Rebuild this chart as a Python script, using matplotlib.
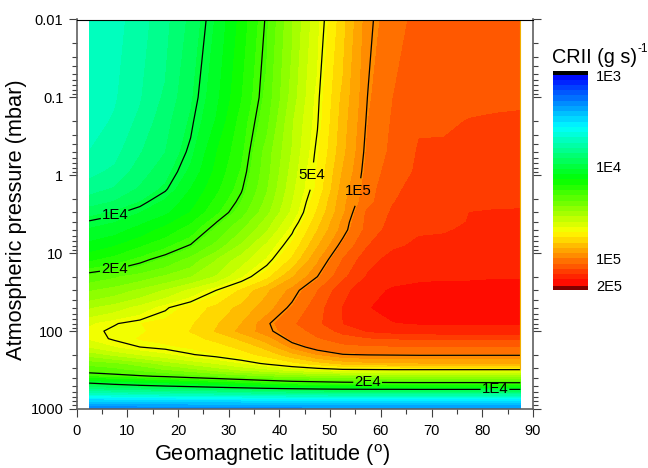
import numpy as np
import matplotlib

matplotlib.use("Agg")
import matplotlib.pyplot as plt
from matplotlib.colors import BoundaryNorm, LinearSegmentedColormap, ListedColormap
from matplotlib.ticker import FixedLocator, NullFormatter

plt.rcParams["font.family"] = ["Liberation Sans", "DejaVu Sans"]
plt.rcParams["mathtext.fontset"] = "custom"
plt.rcParams["mathtext.rm"] = "Liberation Sans"
plt.rcParams["mathtext.default"] = "regular"

latitude = [2.5, 7.5, 12.5, 17.5, 22.5, 27.5, 32.5, 37.5, 42.5, 47.5, 52.5, 57.5, 62.5, 67.5, 72.5, 77.5, 82.5, 87.5]
pressure = [0.01, 0.1, 0.2, 0.5, 0.9, 1.5, 2.2, 3, 4, 5, 8, 12, 20, 30, 50, 80, 100, 125, 160, 200, 260, 310, 380, 460, 560, 740, 850, 1000]

# CRII in units of 1E3 (g s)^-1, one row per pressure
crii_k = [
    [5.0, 5.3, 6.0, 7.0, 8.6, 11, 14.8, 20.5, 31, 45, 66, 97.5, 110, 124, 127, 128, 129, 129],
    [5.1, 5.5, 6.3, 7.5, 9.3, 11.9, 16, 22, 33, 48.6, 72, 101, 118, 127, 130, 131, 132, 133],
    [5.2, 5.7, 6.6, 7.9, 9.7, 12.5, 17, 23, 35, 49.5, 74, 103, 120, 133, 132, 135, 136, 136],
    [5.6, 6.1, 7.2, 8.3, 10.4, 14, 17.8, 25.5, 36, 52, 76, 106, 122, 136, 138, 138, 139, 139],
    [6.1, 6.6, 7.8, 9.0, 11.2, 14.6, 18.7, 26, 37.5, 54, 80, 108, 127, 137, 139, 140, 141, 142],
    [6.9, 7.4, 8.5, 9.8, 12.4, 15.5, 19.7, 27, 39, 55, 84, 111, 132, 139, 141, 142, 144, 145],
    [7.8, 8.4, 9.5, 11.2, 13.3, 16.7, 21, 28.5, 40.5, 59, 87, 113, 134, 140, 143, 147, 150, 151],
    [9.0, 9.7, 10.8, 12, 14.2, 17.8, 22.5, 30, 42, 62, 88, 122, 137, 142, 146, 153.5, 155, 155],
    [10.2, 10.8, 12, 13.5, 15.8, 19.9, 25, 33, 45.5, 66, 93, 123, 140, 152, 150, 154, 156, 157],
    [11, 11.7, 13, 14.8, 17.2, 21.5, 27, 35, 48.8, 69, 95, 124, 143, 152, 152.5, 155, 157, 158],
    [13, 14, 15.8, 17.8, 20.3, 25, 32, 42, 55, 78, 106, 134, 151, 156, 157, 159, 161, 162],
    [15.5, 17, 19, 21.5, 25, 31, 38, 47, 62, 88, 118, 147, 160, 163, 165, 166, 168, 169],
    [22, 23.5, 25.5, 28, 31, 36, 45.5, 58, 78, 100, 130, 156, 168, 172, 173, 173, 174, 174],
    [27, 29, 32, 36, 42, 50, 62, 77, 94, 117, 147, 168, 178, 180, 181, 181, 181, 181],
    [35, 38, 42.5, 49, 56, 63, 72, 85, 104, 127, 154, 174, 183, 187, 189, 189, 189, 189],
    [45.5, 49.5, 53, 55.5, 59.5, 68, 79, 98, 115, 130, 153, 170, 174, 176, 177, 176, 176, 176],
    [48, 51.5, 52.5, 55, 61, 70, 82, 97, 110, 123, 140, 155, 160, 163, 164, 164, 165, 165],
    [47, 51, 53.5, 55, 58, 63, 71, 85, 106, 116, 125, 132, 135, 136, 137, 137, 137, 137],
    [41, 46, 50, 52, 54, 57, 63, 72, 93, 107, 113, 115, 115.5, 116, 116, 116, 116, 116],
    [33, 37, 41, 45, 49.5, 53, 57, 64, 75, 90, 99.5, 101, 101.5, 102, 102, 102, 102, 102],
    [25, 26.5, 29, 33, 37, 41, 46, 51.5, 58, 65, 72, 76, 77, 78, 78, 78, 78, 78],
    [22, 23, 25, 27.5, 30, 33.5, 37, 40, 43.5, 47, 50, 50.5, 51, 51, 51, 51, 51, 51],
    [18, 18.7, 19.5, 20.5, 22, 23.5, 25, 26.5, 28, 29, 30, 30.5, 31, 31, 31, 31, 31, 31],
    [10.2, 11, 11.8, 12.5, 13.3, 14.3, 15.5, 16.8, 18, 18.6, 19.2, 19.5, 19.7, 19.8, 19.8, 19.8, 19.9, 20],
    [7, 7.2, 7.5, 7.8, 8, 8.3, 8.6, 9, 9.3, 9.6, 9.8, 9.9, 9.9, 10, 10, 10, 10, 10],
    [3.3, 3.35, 3.4, 3.45, 3.5, 3.5, 3.55, 3.6, 3.6, 3.65, 3.65, 3.7, 3.7, 3.7, 3.7, 3.7, 3.7, 3.7],
    [2.5, 2.5, 2.55, 2.55, 2.6, 2.6, 2.6, 2.65, 2.65, 2.7, 2.7, 2.7, 2.7, 2.7, 2.7, 2.7, 2.7, 2.7],
    [1.8, 1.8, 1.85, 1.85, 1.9, 1.9, 1.9, 1.95, 1.95, 2.0, 2.0, 2.0, 2.0, 2.0, 2.0, 2.0, 2.0, 2.0],
]

line_levels = [1e4, 2e4, 5e4, 1e5]
line_names = ["1E4", "2E4", "5E4", "1E5"]
# label spots as (latitude, pressure)
label_spots = [(7.6, 3.3), (7.4, 15.4), (46.4, 1.0), (55.3, 1.6), (57.4, 440), (82.5, 562)]

x_ticks = [0, 10, 20, 30, 40, 50, 60, 70, 80, 90]
y_ticks = [0.01, 0.1, 1, 10, 100, 1000]
y_labels = ["0.01", "0.1", "1", "10", "100", "1000"]
bar_ticks = [1e3, 1e4, 1e5, 2e5]
bar_labels = ["1E3", "1E4", "1E5", "2E5"]

W, H = 648, 468
fig = plt.figure(figsize=(W / 100, H / 100), dpi=100)
ax = fig.add_axes([76.5 / W, 1 - 409 / H, (533 - 76.5) / W, (409 - 19.5) / H])

log_z = np.log10(np.array(crii_k) * 1e3)
levels = np.linspace(3, np.log10(2e5), 41)
rainbow = LinearSegmentedColormap.from_list("rainbow5", ["#0000ff", "#00ffff", "#00ff00", "#ffff00", "#ff0000"])
cmap = ListedColormap(rainbow((np.arange(40) + 0.5) / 40))
cmap.set_under("black")
cmap.set_over("#800000")
norm = BoundaryNorm(levels, 40)

cf = ax.contourf(latitude, pressure, log_z, levels=levels, cmap=cmap, norm=norm, extend="both")
cs = ax.contour(latitude, pressure, log_z, levels=np.log10(line_levels), colors="black", linewidths=0.9)

ax.set_yscale("log")
ax.set_xlim(0, 90)
ax.set_ylim(1000, 0.01)

ax.plot([latitude[-1], latitude[-1]], [pressure[0], pressure[21]], color="#f0b000", lw=0.8)

fmt = {lev: name for lev, name in zip(cs.levels, line_names)}
texts = ax.clabel(cs, fmt=fmt, manual=label_spots, inline=True, inline_spacing=1, fontsize=10.8, colors="black")
for t in texts:
    t.set_rotation(0)

ax.set_xticks(x_ticks)
ax.xaxis.set_minor_locator(FixedLocator([v + 5 for v in x_ticks[:-1]]))
ax.yaxis.set_major_locator(FixedLocator(y_ticks))
ax.set_yticklabels(y_labels)
minor_y = [m * t for t in y_ticks[:-1] for m in range(2, 10)]
ax.yaxis.set_minor_locator(FixedLocator(minor_y))
ax.yaxis.set_minor_formatter(NullFormatter())
ax.tick_params(axis="both", which="major", length=5.8, width=0.8, color="#404040", labelsize=10.5)
ax.tick_params(axis="both", which="minor", length=3.4, width=0.8, color="#404040")
ax.tick_params(axis="x", which="major", pad=5)
ax.tick_params(axis="y", which="major", pad=3.6)
ax.tick_params(axis="y", which="both", left=True, right=True)

for side in ["left", "right", "bottom"]:
    ax.spines[side].set_color("#606060")
    ax.spines[side].set_linewidth(1.2)
ax.spines["top"].set_color("black")
ax.spines["top"].set_linewidth(0.8)

fig.text(154 / W, 1 - 461.5 / H, "Geomagnetic latitude ($^{o}$)", fontsize=15.7, va="baseline", ha="left")
fig.text(17 / W, 1 - 220 / H, "Atmospheric pressure (mbar)", fontsize=15.7, rotation=90, va="center", ha="center")

cax = fig.add_axes([553 / W, 1 - 290 / H, 35 / W, 219 / H])
cb = fig.colorbar(cf, cax=cax, extend="both", extendrect=True, extendfrac=0.0214, spacing="proportional")
cb.ax.invert_yaxis()
cb.outline.set_visible(False)
cb.solids.set_edgecolor("face")
cb.set_ticks(np.log10(bar_ticks))
cb.set_ticklabels(bar_labels)
cb.ax.minorticks_off()
cb.ax.tick_params(length=0, labelsize=10.5, pad=6)
fig.text(552 / W, 1 - 63 / H, "CRII (g s)", fontsize=14.3, va="baseline", ha="left")
fig.text(638 / W, 1 - 52 / H, "-1", fontsize=8.5, va="baseline", ha="left")

fig.savefig("out.png", dpi=100)
